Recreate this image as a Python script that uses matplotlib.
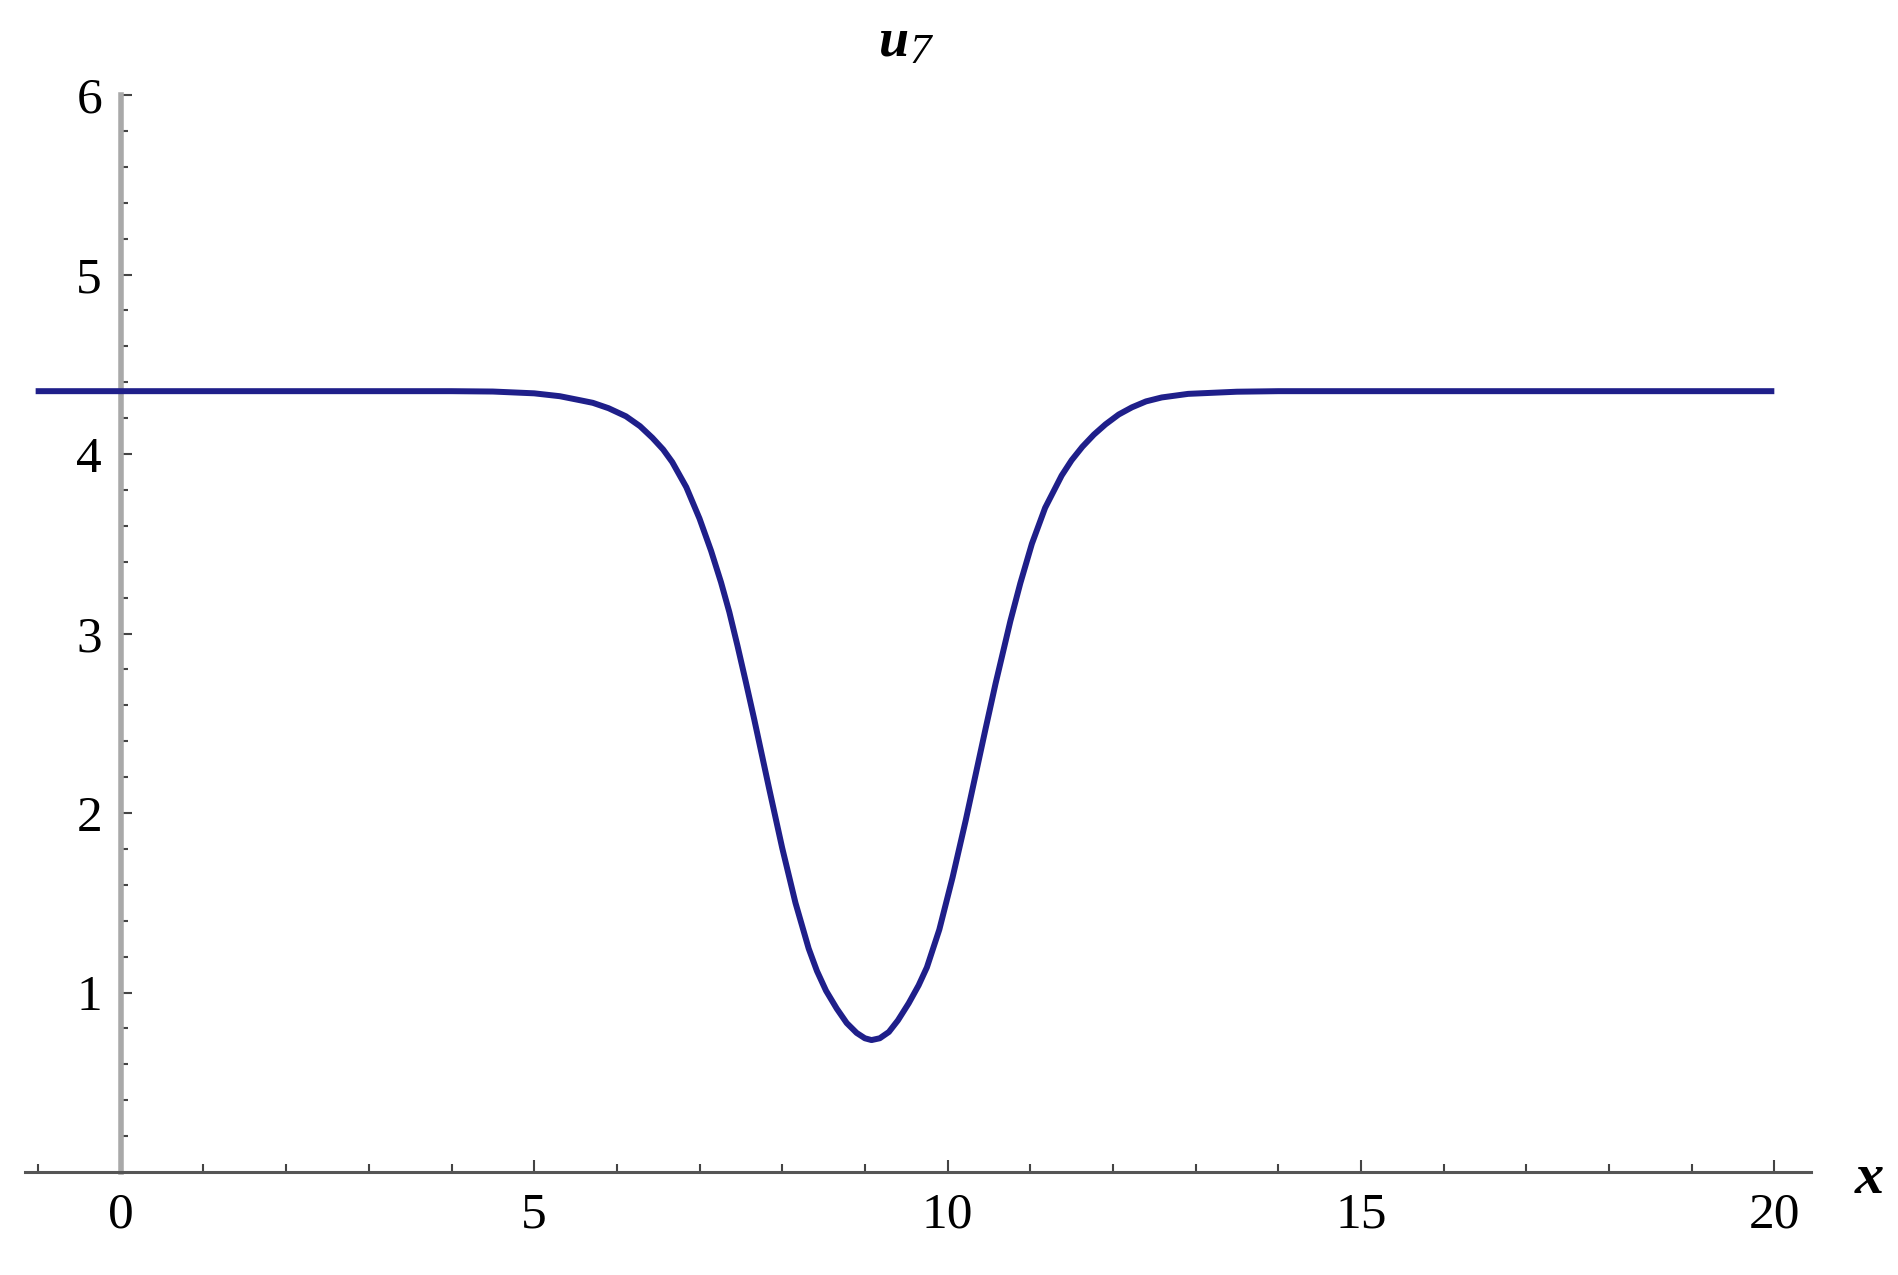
import numpy as np
import matplotlib
matplotlib.use("Agg")
import matplotlib.pyplot as plt
from matplotlib.ticker import FixedLocator

# ---- data ----
x_vals = [-1.03, 0, 1, 2, 3, 4, 4.5, 5.0, 5.31, 5.55, 5.71, 5.9, 6.11, 6.28, 6.43, 6.56,
          6.67, 6.84, 7.00, 7.14, 7.26, 7.36, 7.46, 7.56, 7.66, 7.84, 8.00, 8.16, 8.32,
          8.42, 8.53, 8.66, 8.78, 8.90, 9.00, 9.08, 9.18, 9.29, 9.40, 9.53, 9.65, 9.75,
          9.90, 10.06, 10.22, 10.34, 10.46, 10.58, 10.76, 10.88, 11.02, 11.18, 11.38,
          11.50, 11.63, 11.77, 11.91, 12.07, 12.23, 12.40, 12.59, 12.91, 13.5, 14, 15,
          16, 17, 18, 19, 20]
u7_vals = [4.35, 4.35, 4.35, 4.35, 4.35, 4.35, 4.348, 4.338, 4.322, 4.30, 4.285, 4.255, 4.21, 4.155, 4.09, 4.025,
           3.955, 3.815, 3.64, 3.46, 3.285, 3.12, 2.93, 2.73, 2.525, 2.14, 1.805, 1.50, 1.245,
           1.12, 1.01, 0.91, 0.83, 0.775, 0.745, 0.735, 0.745, 0.78, 0.845, 0.94, 1.04, 1.14,
           1.35, 1.64, 1.96, 2.215, 2.47, 2.72, 3.07, 3.28, 3.50, 3.70, 3.88,
           3.965, 4.04, 4.108, 4.165, 4.22, 4.26, 4.293, 4.315, 4.335, 4.347, 4.35, 4.35,
           4.35, 4.35, 4.35, 4.35, 4.35]

x_major = [0, 5, 10, 15, 20]
x_minor = [v for v in range(-1, 21) if v not in x_major]
y_major = [1, 2, 3, 4, 5, 6]
y_minor = [round(0.2 * k, 1) for k in range(1, 30) if k % 5 != 0]

W, H = 1899, 1275
fig = plt.figure(figsize=(W / 100, H / 100), dpi=100)
left, right = 24.9, 1810.7
top, bottom = 95, 1172
ax = fig.add_axes([left / W, (H - bottom) / H, (right - left) / W, (bottom - top) / H])

ax.plot(x_vals, u7_vals, color="#1f1f8a", lw=4.3, zorder=3,
        solid_joinstyle="round", solid_capstyle="butt")

ax.set_xlim(-1.16, 20.44)
ax.set_ylim(0, 6)

for s in ("top", "right"):
    ax.spines[s].set_visible(False)
ax.spines["left"].set_position(("data", 0))
ax.spines["left"].set_color("#a9a9a9")
ax.spines["left"].set_linewidth(4.0)
ax.spines["bottom"].set_color("#555555")
ax.spines["bottom"].set_linewidth(2.2)

ax.xaxis.set_major_locator(FixedLocator(x_major))
ax.xaxis.set_minor_locator(FixedLocator(x_minor))
ax.yaxis.set_major_locator(FixedLocator(y_major))
ax.yaxis.set_minor_locator(FixedLocator(y_minor))

serif = "Liberation Serif"
ax.tick_params(axis="both", which="major", direction="in", color="#444444",
               width=1.5, labelsize=37)
ax.tick_params(axis="both", which="minor", direction="in", color="#444444",
               width=1.5)
ax.tick_params(axis="x", which="major", length=8.5, pad=14.5)
ax.tick_params(axis="x", which="minor", length=5.5)
ax.tick_params(axis="y", which="major", length=8, pad=13.5)
ax.tick_params(axis="y", which="minor", length=5)
for lab in ax.get_xticklabels() + ax.get_yticklabels():
    lab.set_family(serif)

# title u_7
fig.text(908 / W, 1 - 55 / H, "u", family=serif, fontstyle="italic", fontweight="bold",
         fontsize=39, ha="right", va="baseline")
fig.text(909 / W, 1 - 63 / H, "7", family=serif, fontstyle="italic",
         fontsize=31, ha="left", va="baseline")

# x axis label
fig.text(1869 / W, 1 - 1193 / H, "x", family=serif, fontstyle="italic", fontweight="bold",
         fontsize=42, ha="center", va="baseline")

fig.savefig("out.png", dpi=100, facecolor="white")
